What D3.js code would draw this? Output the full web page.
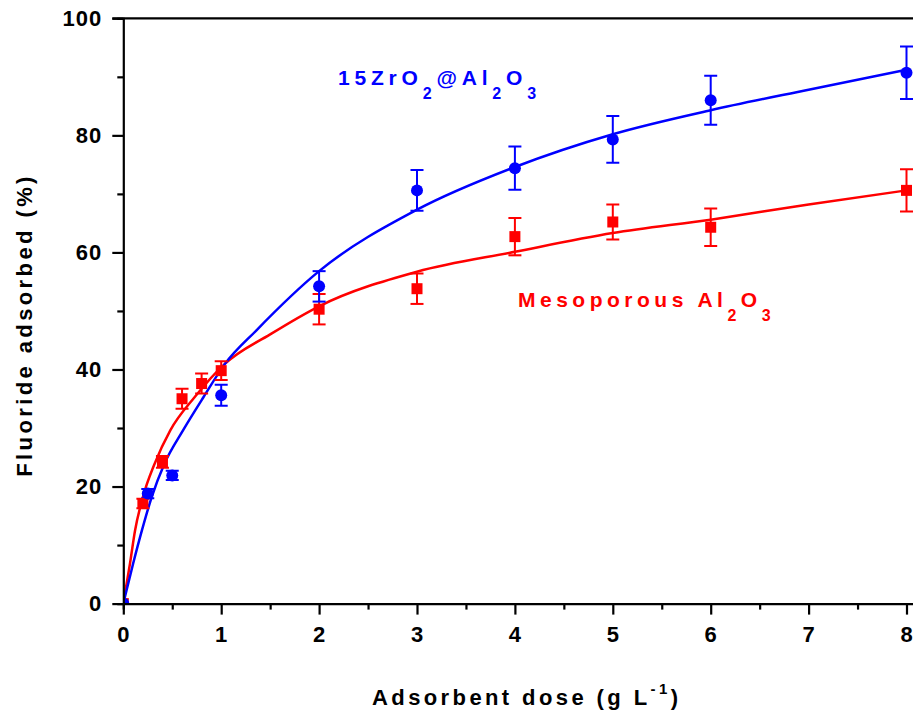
<!DOCTYPE html>
<html>
<head>
<meta charset="utf-8">
<script src="https://cdn.jsdelivr.net/npm/d3@7"></script>
<style>
  body { margin: 0; background: #fff; }
  text { font-family: "Liberation Sans", Arial, sans-serif; }
</style>
</head>
<body>
<div id="chart"></div>
<script>
// measured points, 15ZrO2@Al2O3 (blue circles)
var zrDose = [0, 0.25, 0.5, 1, 2, 3, 4, 5, 6, 8];
var zrAds  = [0, 18.8, 21.9, 35.6, 54.2, 70.6, 74.4, 79.3, 86.0, 90.7];
var zrErr  = [0, 0.8, 0.8, 1.8, 2.6, 3.5, 3.7, 4.0, 4.2, 4.5];

// measured points, mesoporous Al2O3 (red squares)
var alDose = [0, 0.2, 0.4, 0.6, 0.8, 1, 2, 3, 4, 5, 6, 8];
var alAds  = [0, 17.1, 24.2, 35.0, 37.6, 39.8, 50.3, 53.8, 62.7, 65.2, 64.3, 70.6];
var alErr  = [0, 0.8, 1.0, 1.7, 1.7, 1.6, 2.6, 2.6, 3.2, 3.0, 3.2, 3.6];

// fitted curves
var zrFitX = [0, 0.10, 0.19, 0.29, 0.42, 0.61, 0.82, 1.04, 1.36, 2, 3, 4, 5, 6, 7, 8];
var zrFitY = [0, 6.8, 12.5, 18.2, 23.9, 29.6, 35.3, 41.0, 46.7, 56.8, 67.3, 74.6, 80.2, 84.3, 87.8, 91.2];
var alFitX = [0, 0.068, 0.12, 0.2, 0.32, 0.48, 0.73, 1.04, 1.5, 2, 3, 4, 5, 6, 7, 8];
var alFitY = [0, 6.8, 12.5, 18.2, 23.9, 29.6, 35.3, 41.0, 46.0, 50.8, 56.7, 60.1, 63.3, 65.6, 68.2, 70.6];

var xTicks = [0, 1, 2, 3, 4, 5, 6, 7, 8];
var yTicks = [0, 20, 40, 60, 80, 100];

var W = 913, H = 713;
var blue = "#0000ff", red = "#ff0000";

var svg = d3.select("#chart").append("svg")
    .attr("width", W).attr("height", H);

// x goes a bit past 8, the right edge is cut off like in the figure
var x = d3.scaleLinear().domain([0, 8.5]).range([123.3, 123.3 + 8.5 * 97.9]);
var y = d3.scaleLinear().domain([0, 100]).range([603.6, 18.3]);

svg.append("clipPath").attr("id", "plotclip")
  .append("rect")
    .attr("x", x(0)).attr("y", y(100))
    .attr("width", x(8.5) - x(0)).attr("height", y(0) - y(100));

var plot = svg.append("g").attr("clip-path", "url(#plotclip)");

// curves
function fitLine(xs, ys) {
  return d3.line()
    .x(function(d, i) { return x(xs[i]); })
    .y(function(d, i) { return y(ys[i]); })
    .curve(d3.curveMonotoneX)(xs);
}
plot.append("path").attr("d", fitLine(alFitX, alFitY))
    .attr("fill", "none").attr("stroke", red).attr("stroke-width", 2.5);
plot.append("path").attr("d", fitLine(zrFitX, zrFitY))
    .attr("fill", "none").attr("stroke", blue).attr("stroke-width", 2.5);

// error bars
function errorBars(xs, ys, es, col) {
  var g = plot.append("g").attr("stroke", col).attr("stroke-width", 2);
  xs.forEach(function(d, i) {
    if (!es[i]) return;
    var cx = x(d), t = y(ys[i] + es[i]), b = y(ys[i] - es[i]);
    g.append("line").attr("x1", cx).attr("x2", cx).attr("y1", t).attr("y2", b);
    g.append("line").attr("x1", cx - 6.5).attr("x2", cx + 6.5).attr("y1", t).attr("y2", t);
    g.append("line").attr("x1", cx - 6.5).attr("x2", cx + 6.5).attr("y1", b).attr("y2", b);
  });
}
errorBars(alDose, alAds, alErr, red);
errorBars(zrDose, zrAds, zrErr, blue);

// markers
plot.append("g").selectAll("rect")
  .data(alDose)
  .join("rect")
    .attr("x", function(d) { return x(d) - 5.5; })
    .attr("y", function(d, i) { return y(alAds[i]) - 5.5; })
    .attr("width", 11).attr("height", 11)
    .attr("fill", red);
plot.append("g").selectAll("circle")
  .data(zrDose)
  .join("circle")
    .attr("cx", function(d) { return x(d); })
    .attr("cy", function(d, i) { return y(zrAds[i]); })
    .attr("r", 6)
    .attr("fill", blue);

// axes
var xMinor = d3.range(0.5, 8.5, 1);
var yMinor = d3.range(10, 100, 20);

var xAxis = svg.append("g").attr("transform", "translate(0," + y(0) + ")");
xAxis.call(d3.axisBottom(x).tickValues(xTicks).tickSize(11).tickSizeOuter(0).tickPadding(12));
xAxis.append("g").call(d3.axisBottom(x).tickValues(xMinor).tickSize(6).tickFormat(""));

var yAxis = svg.append("g").attr("transform", "translate(" + x(0) + ",0)");
yAxis.call(d3.axisLeft(y).tickValues(yTicks).tickSize(11).tickSizeOuter(0).tickPadding(10));
yAxis.append("g").call(d3.axisLeft(y).tickValues(yMinor).tickSize(6).tickFormat(""));

svg.selectAll(".domain").attr("stroke-width", 2.2).attr("stroke", "#000");
svg.selectAll(".tick line").attr("stroke-width", 2.2).attr("stroke", "#000");
svg.selectAll(".tick text")
    .attr("fill", "#000")
    .style("font-size", "22px")
    .style("font-weight", "bold")
    .style("letter-spacing", "1px");
// minor axes repeat the domain path; hide those
xAxis.select("g .domain").remove();
yAxis.select("g .domain").remove();

// top frame line
svg.append("line")
    .attr("x1", x(0) - 11).attr("x2", W)
    .attr("y1", y(100)).attr("y2", y(100))
    .attr("stroke", "#000").attr("stroke-width", 2.2);

// axis titles
var xt = svg.append("text")
    .attr("x", 372).attr("y", 705)
    .style("font-size", "22px").style("font-weight", "bold")
    .style("letter-spacing", "3.4px");
xt.append("tspan").text("Adsorbent dose (g L");
xt.append("tspan").attr("dy", -11).style("font-size", "15px").text("-1");
xt.append("tspan").attr("dy", 11).text(")");

svg.append("text")
    .attr("transform", "translate(32,325) rotate(-90)")
    .attr("text-anchor", "middle")
    .style("font-size", "22px")
    .style("font-weight", "bold")
    .style("letter-spacing", "3.4px")
    .text("Fluoride adsorbed (%)");

// series labels with subscripts
function chemLabel(px, py, parts, col, sp) {
  var t = svg.append("text").attr("x", px).attr("y", py)
      .attr("fill", col)
      .style("font-size", "21px").style("font-weight", "bold")
      .style("letter-spacing", sp + "px");
  var low = false;
  parts.forEach(function(p) {
    var sub = p[1];
    var ts = t.append("tspan").text(p[0]);
    if (sub && !low) { ts.attr("dy", 14); low = true; }
    else if (!sub && low) { ts.attr("dy", -14); low = false; }
    if (sub) ts.style("font-size", "16px");
  });
}
chemLabel(338, 85, [["15ZrO", 0], ["2", 1], ["@Al", 0], ["2", 1], ["O", 0], ["3", 1]], blue, 4.8);
chemLabel(518, 307, [["Mesoporous Al", 0], ["2", 1], ["O", 0], ["3", 1]], red, 4.5);
</script>
</body>
</html>
